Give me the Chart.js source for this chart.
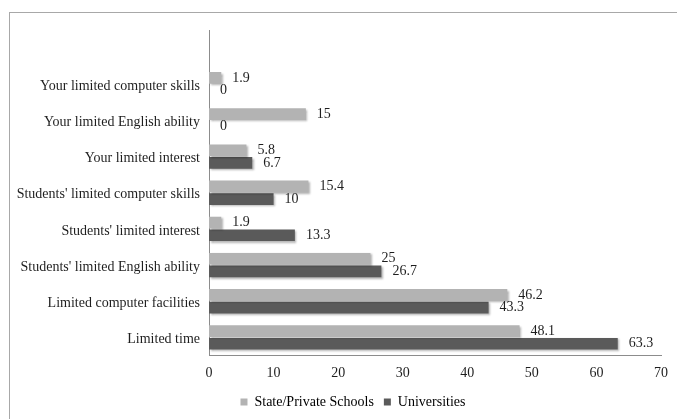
<!DOCTYPE html>
<html>
<head>
<meta charset="utf-8">
<script src="https://cdn.jsdelivr.net/npm/chart.js@4.4.1/dist/chart.umd.min.js"></script>
<style>
  html, body { margin: 0; padding: 0; background: #fff; }
  #frame { position: absolute; left: 9px; top: 12px; width: 700px; height: 440px; border: 1px solid #a8a8a8; }
  #wrap { position: absolute; left: 0; top: 0; width: 677px; height: 419px; }
</style>
</head>
<body>
<div id="frame"></div>
<div id="wrap"><canvas id="chart"></canvas></div>
<script>
// top row is an empty band, as in the original
const categories = [
  '',
  'Your limited computer skills',
  'Your limited English ability',
  'Your limited interest',
  "Students' limited computer skills",
  "Students' limited interest",
  "Students' limited English ability",
  'Limited computer facilities',
  'Limited time'
];
const schools = [null, 1.9, 15, 5.8, 15.4, 1.9, 25, 46.2, 48.1];
const universities = [null, 0, 0, 6.7, 10, 13.3, 26.7, 43.3, 63.3];
const xTicks = [0, 10, 20, 30, 40, 50, 60, 70];

const serif = '"Liberation Serif", "Times New Roman", serif';
const textColor = '#1e1e1e';

const barShadow = {
  id: 'barShadow',
  beforeDatasetDraw(chart) {
    const ctx = chart.ctx;
    ctx.save();
    ctx.shadowColor = 'rgba(0,0,0,0.3)';
    ctx.shadowOffsetX = 1.5;
    ctx.shadowOffsetY = 1.5;
    ctx.shadowBlur = 2;
  },
  afterDatasetDraw(chart) {
    chart.ctx.restore();
  }
};

const valueLabels = {
  id: 'valueLabels',
  afterDatasetsDraw(chart) {
    const ctx = chart.ctx;
    ctx.save();
    ctx.font = '14px ' + serif;
    ctx.fillStyle = textColor;
    ctx.textAlign = 'left';
    ctx.textBaseline = 'middle';
    chart.data.datasets.forEach((ds, i) => {
      chart.getDatasetMeta(i).data.forEach((bar, j) => {
        const v = ds.data[j];
        if (v === null) return;
        ctx.fillText(String(v), bar.x + 11, bar.y);
      });
    });
    ctx.restore();
  }
};

const legendShift = {
  id: 'legendShift',
  afterLayout(chart) {
    chart.legend.left += 43;
  }
};

new Chart(document.getElementById('chart'), {
  type: 'bar',
  data: {
    labels: categories,
    datasets: [
      {
        label: 'State/Private Schools',
        data: schools,
        backgroundColor: '#b3b3b3',
        borderWidth: 0
      },
      {
        label: 'Universities',
        data: universities,
        backgroundColor: '#5a5a5a',
        borderWidth: 0
      }
    ]
  },
  options: {
    indexAxis: 'y',
    responsive: true,
    maintainAspectRatio: false,
    animation: false,
    layout: { padding: { top: 30, right: 14, bottom: 0, left: 0 } },
    datasets: { bar: { categoryPercentage: 0.7, barPercentage: 0.92 } },
    scales: {
      x: {
        min: 0,
        max: 70,
        afterBuildTicks(scale) { scale.ticks = xTicks.map(v => ({ value: v })); },
        afterFit(scale) { scale.height = 29.5; },
        grid: { display: false, drawTicks: false },
        border: { display: true, color: '#8c8c8c', width: 1 },
        ticks: { padding: 9, color: textColor, font: { family: serif, size: 14 } }
      },
      y: {
        afterFit(scale) { scale.width = 209; },
        grid: { display: false, drawTicks: false },
        border: { display: true, color: '#8c8c8c', width: 1 },
        ticks: { padding: 9, labelOffset: 2, color: textColor, autoSkip: false, font: { family: serif, size: 14 } }
      }
    },
    plugins: {
      legend: {
        position: 'bottom',
        labels: {
          boxWidth: 7,
          boxHeight: 7,
          padding: 10,
          color: textColor,
          font: { family: serif, size: 14 },
          generateLabels(chart) {
            return chart.data.datasets.map((ds, i) => ({
              text: ds.label,
              fillStyle: ds.backgroundColor,
              strokeStyle: ds.backgroundColor,
              lineWidth: 0,
              datasetIndex: i
            }));
          }
        }
      },
      tooltip: { enabled: false }
    }
  },
  plugins: [barShadow, valueLabels, legendShift]
});
</script>
</body>
</html>
